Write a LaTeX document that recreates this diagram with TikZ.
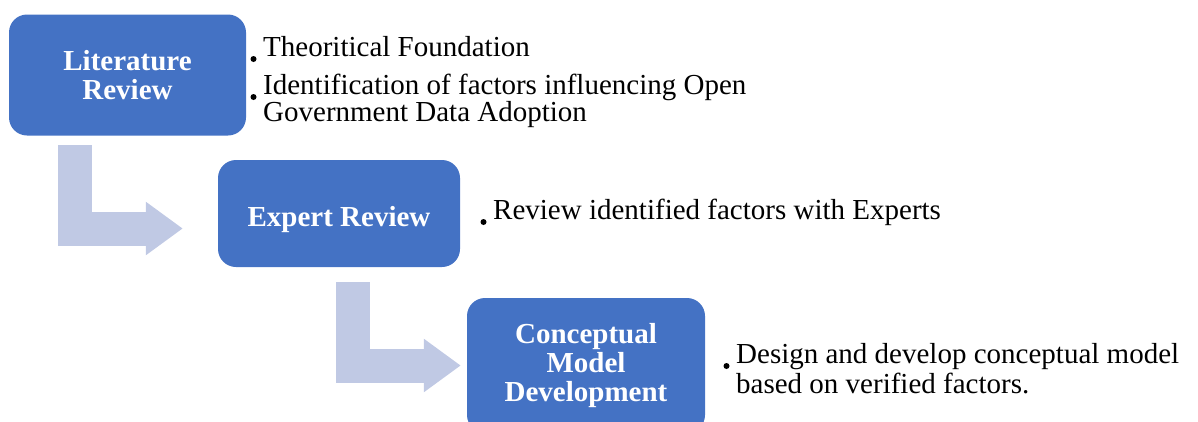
\documentclass[tikz,border=0pt]{standalone}
\usepackage{fontspec}
\setmainfont{Liberation Serif}
\usetikzlibrary{arrows.meta}
\definecolor{stageblue}{RGB}{68,114,196}
\definecolor{flowblue}{RGB}{192,201,228}
\tikzset{
  stage/.style={fill=stageblue,rounded corners=18pt,inner sep=0pt,align=center,
    text=white,font=\fontsize{29}{29}\selectfont\bfseries},
  flow/.style={draw=flowblue,line width=34pt,line join=miter,
    -{Triangle[length=37pt,width=51pt,fill=flowblue]}},
  note/.style={anchor=base west,inner sep=0pt,font=\fontsize{29}{29}\selectfont}
}
\begin{document}
\begin{tikzpicture}[x=1pt,y=-1pt]
  \useasboundingbox (0,0) rectangle (1198,421);
  \node[stage,minimum width=237pt,minimum height=121pt] (lit) at (127.5,75) {Literature\\Review};
  \node[stage,minimum width=242pt,minimum height=107pt,text height=26pt,text depth=0pt] (expert) at (339,213.5) {Expert Review};
  \node[stage,minimum width=238pt,minimum height=135pt] (model) at (586,365.5) {Conceptual\\Model\\Development};
  \draw[flow] ([xshift=-52.5pt,yshift=-9.5pt]lit.south) |- ([xshift=-35pt,yshift=-15pt]expert.west);
  \draw[flow] ([xshift=14pt,yshift=-15pt]expert.south) |- ([xshift=-6pt]model.west);
  \node[note] (found) at (263,56) {Theoritical Foundation};
  \node[note] (ident) at (263,94) {Identification of factors influencing Open};
  \node[note] (identb) at (263,121) {Government Data Adoption};
  \node[note] (review) at (493,219) {Review identified factors with Experts};
  \node[note] (design) at (736,363) {Design and develop conceptual model};
  \node[note] (designb) at (736,393) {based on verified factors.};
  \foreach \item in {found,ident,review,design}
    \fill ([xshift=-9.5pt,yshift=-3pt]\item.base west) circle (3pt);
\end{tikzpicture}
\end{document}
